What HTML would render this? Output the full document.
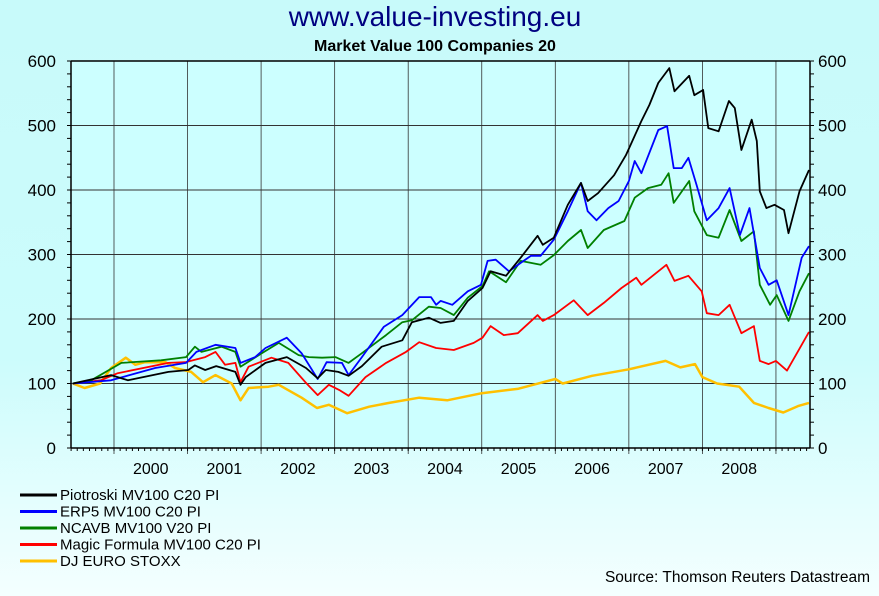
<!DOCTYPE html>
<html><head><meta charset="utf-8"><style>
html,body{margin:0;padding:0}
body{width:879px;height:596px;overflow:hidden;background:linear-gradient(#c8fafa 0%,#ccfcfc 60%,#f4ffff 100%);font-family:"Liberation Sans",sans-serif}
svg{display:block}
</style></head><body>
<svg width="879" height="596" xmlns="http://www.w3.org/2000/svg" id="svg">
<text x="435" y="26" text-anchor="middle" font-size="28" fill="#000080">www.value-investing.eu</text>
<text x="435" y="51" text-anchor="middle" font-size="16" font-weight="bold">Market Value 100 Companies 20</text>
<rect x="71" y="61" width="739" height="387" fill="#ccffff"/>
<g id="grid"></g><g id="series"></g><g id="axes"></g>
<g id="legend"></g>
<text x="870" y="582" text-anchor="end" font-size="15.5">Source: Thomson Reuters Datastream</text>
</svg>
<script>
const yTicks=[0,100,200,300,400,500,600];
const years=[2000,2001,2002,2003,2004,2005,2006,2007,2008];
const seriesNames=["Piotroski MV100 C20 PI","ERP5 MV100 C20 PI","NCAVB MV100 V20 PI","Magic Formula MV100 C20 PI","DJ EURO STOXX"];
const blackT=[1999.44,1999.96,2000.19,2000.74,2001.01,2001.10,2001.24,2001.39,2001.65,2001.72,2001.79,2002.06,2002.35,2002.61,2002.77,2002.88,2003.05,2003.19,2003.37,2003.64,2003.92,2004.05,2004.28,2004.44,2004.62,2004.81,2005.01,2005.12,2005.33,2005.53,2005.76,2005.83,2005.98,2006.17,2006.35,2006.44,2006.58,2006.80,2006.96,2007.17,2007.28,2007.40,2007.55,2007.62,2007.82,2007.89,2008.01,2008.08,2008.22,2008.36,2008.44,2008.53,2008.67,2008.74,2008.78,2008.87,2008.98,2009.11,2009.17,2009.32,2009.45];
const blackV=[100,113,105,118,121,128,121,127,118,98,110,132,141,124,108,121,118,112,127,157,167,195,202,194,197,228,248,274,267,295,329,315,326,377,411,383,395,423,454,507,532,566,589,553,577,547,555,496,491,538,527,462,509,476,398,372,377,369,333,398,431];
const blueT=[1999.44,1999.96,2000.56,2000.98,2001.12,2001.38,2001.65,2001.72,2001.92,2002.06,2002.35,2002.55,2002.77,2002.89,2003.10,2003.19,2003.37,2003.67,2003.92,2004.15,2004.31,2004.38,2004.44,2004.60,2004.81,2004.99,2005.08,2005.19,2005.37,2005.53,2005.67,2005.80,2005.98,2006.17,2006.35,2006.44,2006.56,2006.72,2006.86,2007.00,2007.08,2007.17,2007.40,2007.52,2007.61,2007.72,2007.81,2007.92,2008.06,2008.22,2008.37,2008.51,2008.64,2008.78,2008.90,2009.01,2009.17,2009.35,2009.45];
const blueV=[100,105,124,132,149,160,155,132,141,155,171,147,107,133,132,113,141,188,206,234,234,222,228,222,243,253,290,292,274,287,298,298,323,367,411,367,353,372,383,414,445,426,493,499,434,434,450,408,353,372,403,330,372,279,253,260,206,295,313];
const greenT=[1999.44,1999.69,2000.10,2000.64,2000.98,2001.10,2001.19,2001.46,2001.65,2001.72,2002.01,2002.24,2002.51,2002.65,2002.83,2003.01,2003.19,2003.37,2003.70,2003.92,2004.05,2004.28,2004.44,2004.62,2004.81,2005.01,2005.10,2005.33,2005.53,2005.80,2005.98,2006.17,2006.35,2006.44,2006.66,2006.94,2007.08,2007.26,2007.44,2007.54,2007.61,2007.82,2007.89,2008.06,2008.22,2008.37,2008.53,2008.70,2008.78,2008.92,2009.01,2009.17,2009.32,2009.45];
const greenV=[100,105,132,136,141,157,149,157,149,126,147,163,144,141,140,141,132,147,175,195,198,219,217,206,233,251,274,257,290,284,299,321,338,310,338,352,388,403,408,426,380,414,367,330,326,369,321,336,253,222,237,197,243,271];
const redT=[1999.44,1999.82,2000.05,2000.74,2000.97,2001.24,2001.38,2001.51,2001.65,2001.72,2001.83,2002.14,2002.37,2002.61,2002.77,2002.92,2003.06,2003.19,2003.42,2003.70,2003.97,2004.15,2004.38,2004.62,2004.89,2005.01,2005.12,2005.30,2005.49,2005.76,2005.83,2005.98,2006.25,2006.44,2006.66,2006.90,2007.10,2007.17,2007.51,2007.62,2007.81,2007.99,2008.06,2008.22,2008.37,2008.53,2008.70,2008.78,2008.90,2009.00,2009.15,2009.30,2009.45];
const redV=[100,105,116,132,133,141,149,129,132,102,126,140,132,101,82,98,90,81,110,132,149,164,155,152,163,171,189,175,178,206,197,206,229,206,225,248,264,253,284,259,267,243,209,206,222,178,189,135,130,135,120,150,180];
const yellowT=[1999.44,1999.60,1999.81,1999.96,2000.16,2000.29,2000.42,2000.70,2000.83,2001.05,2001.21,2001.38,2001.60,2001.72,2001.83,2002.10,2002.24,2002.55,2002.76,2002.92,2003.17,2003.47,2003.74,2004.15,2004.53,2005.00,2005.50,2006.00,2006.10,2006.50,2007.00,2007.50,2007.70,2007.90,2008.00,2008.20,2008.50,2008.70,2008.90,2009.10,2009.30,2009.45];
const yellowV=[100,93,100,124,140,129,133,133,124,118,102,113,100,74,93,95,98,78,62,67,54,64,70,78,74,85,92,107,100,112,122,135,125,130,110,100,95,70,62,55,65,70];
const colors=["#000000","#0000ff","#008000","#ff0000","#ffc000"];
const NS="http://www.w3.org/2000/svg";
const X0=71,X1=810,Y0=448,Y1=61;
function xs(t){return 114+(t-2000)*73.55;}
function ys(v){return Y0-(v/600)*(Y0-Y1);}
function mk(tag,attrs,parent){const e=document.createElementNS(NS,tag);for(const k in attrs)e.setAttribute(k,attrs[k]);parent.appendChild(e);return e;}
const grid=document.getElementById('grid'),axes=document.getElementById('axes'),ser=document.getElementById('series'),leg=document.getElementById('legend');
yTicks.forEach(v=>{
 const l=mk('line',{x1:X0,x2:X1,y1:ys(v),y2:ys(v),stroke:'#333','stroke-width':1},grid);
 
 
 const a=mk('text',{x:56,y:ys(v)+6,'text-anchor':'end','font-size':17},axes);a.textContent=v;
 
 
 const b=mk('text',{x:818,y:ys(v)+6,'font-size':17},axes);b.textContent=v;
 
 
});
for(let v=0;v<=600;v+=20){mk('line',{x1:X0-4,x2:X0,y1:ys(v),y2:ys(v),stroke:'#000'},axes);mk('line',{x1:X1,x2:X1+4,y1:ys(v),y2:ys(v),stroke:'#000'},axes);}
years.forEach(y=>{
 const l=mk('line',{x1:xs(y),x2:xs(y),y1:Y1,y2:Y0+6,stroke:'#333','stroke-width':0.8},grid);
 
 
 const t=mk('text',{x:xs(y+0.5),y:474,'text-anchor':'middle','font-size':16},axes);t.textContent=y;
 
 
});
mk('line',{x1:xs(2009),x2:xs(2009),y1:Y1,y2:Y0+6,stroke:'#333','stroke-width':0.8},grid);
for(let m=0;m<=130;m++){const t=1999.42+m/12;const x=xs(Math.round(t*12)/12);if(x>=X0&&x<=X1)mk('line',{x1:x,x2:x,y1:Y0,y2:Y0+3,stroke:'#000'},axes);}
mk('line',{x1:X0,x2:X1,y1:Y0,y2:Y0,stroke:'#000','stroke-width':1.5},axes);
mk('line',{x1:X0,x2:X1,y1:Y1,y2:Y1,stroke:'#000','stroke-width':1.5},axes);
mk('line',{x1:X0,x2:X0,y1:Y1,y2:Y0,stroke:'#000','stroke-width':1.5},axes);
mk('line',{x1:X1,x2:X1,y1:Y1,y2:Y0,stroke:'#000','stroke-width':1.5},axes);
const data=[[yellowT,yellowV,4],[redT,redV,3],[greenT,greenV,2],[blueT,blueV,1],[blackT,blackV,0]];
const names=['series-dj-euro-stoxx','series-magic-formula','series-ncavb','series-erp5','series-piotroski'];
data.forEach((d,i)=>{
 const pts=d[0].map((t,j)=>xs(t).toFixed(1)+','+ys(d[1][j]).toFixed(1)).join(' ');
 const p=mk('polyline',{points:pts,fill:'none',stroke:colors[d[2]],'stroke-width':d[2]==4?2.5:1.8,'stroke-linejoin':'round'},ser);
 
 
});
seriesNames.forEach((n,i)=>{
 const y=495+i*16.5;
 const g=mk('g',{},leg);
 
 
 mk('line',{x1:20,x2:57,y1:y,y2:y,stroke:colors[i],'stroke-width':3},g);
 const t=mk('text',{x:60,y:y+5,'font-size':15},g);t.textContent=n;
});
</script>
</body></html>
